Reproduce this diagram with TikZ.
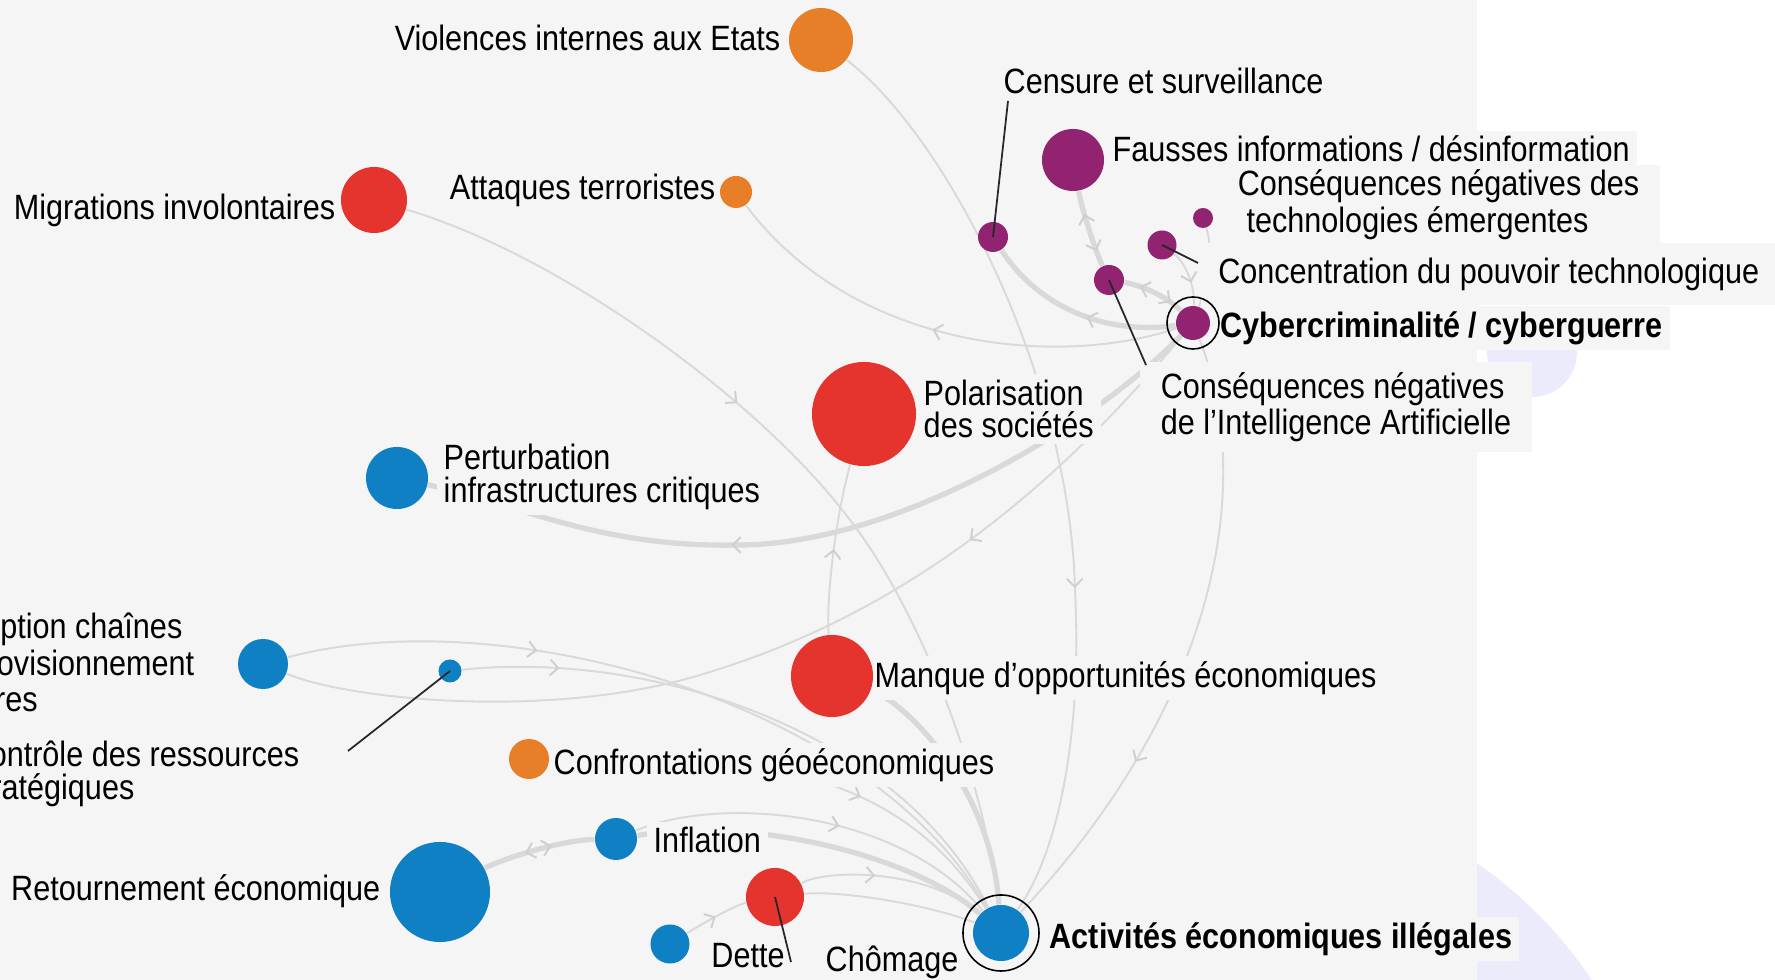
\documentclass[tikz,border=0pt]{standalone}
\usepackage{fontspec}
\setmainfont{Liberation Sans}[FakeStretch=0.87]
\usetikzlibrary{arrows.meta,decorations.markings}
\pgfdeclarelayer{back}
\pgfdeclarelayer{edges}
\pgfsetlayers{back,edges,main}
\definecolor{bgc}{HTML}{F5F5F5}
\definecolor{lav}{HTML}{ECEBFB}
\definecolor{edgec}{HTML}{D9D9D9}
\definecolor{arrc}{HTML}{CFCFCF}
\definecolor{cor}{HTML}{E67F28}
\definecolor{cred}{HTML}{E5332D}
\definecolor{cblue}{HTML}{0F80C4}
\definecolor{cpurp}{HTML}{912371}
\tikzset{chev/.tip={Straight Barb[length=2.3pt,width=4.5pt,line width=0.55pt]}}
\begin{document}
\begin{tikzpicture}[x=0.01cm, y=-0.01cm,
  risk/.style 2 args={circle, inner sep=0pt, fill=#1, minimum size=#2},
  ring/.style={circle, draw=black, line width=0.45pt, inner sep=0pt, minimum size=#1},
  lbl/.style={fill=bgc, inner xsep=2pt, inner ysep=1.5pt, align=left, font=\fontsize{10}{9.3}\selectfont},
  boldlbl/.style={lbl, font=\fontsize{10}{9.3}\selectfont\bfseries},
  link/.style={draw=edgec, line width=0.55pt},
  heavy/.style={draw=edgec, line width=1.5pt},
  leader/.style={draw=black!85, line width=0.5pt},
  onward/.style={postaction={decorate}, decoration={markings, mark=at position #1 with {\arrow[arrc]{chev}}}},
  twoway/.style 2 args={postaction={decorate}, decoration={markings,
    mark=at position #1 with {\arrowreversed[arrc]{chev}},
    mark=at position #2 with {\arrow[arrc]{chev}}}}]
\useasboundingbox (0,0) rectangle (1775,980);
\begin{pgfonlayer}{back}
\fill[white] (0,0) rectangle (1775,980);
\fill[lav] (1226,1225) circle[radius=4.4cm];
\fill[lav] (1532,352) circle[radius=0.45cm];
\fill[bgc] (0,0) rectangle (1477,980);
\end{pgfonlayer}

% labels
\node[lbl, anchor=east] (viollbl) at (788,38) {Violences internes aux Etats};
\node[lbl, anchor=east] (migrlbl) at (343,210) {Migrations involontaires};
\node[lbl, anchor=east] (attlbl) at (723,190) {Attaques terroristes};
\node[lbl, anchor=west] (censlbl) at (996,81) {Censure et surveillance};
\node[lbl, anchor=west] (fauslbl) at (1105,149) {Fausses informations / désinformation};
\node[lbl, anchor=west, inner xsep=6pt] (techlbl) at (1216,205) {Conséquences négatives des\\\hspace*{0.25em}technologies émergentes};
\node[lbl, anchor=west, inner xsep=5pt, minimum height=0.62cm] (conclbl) at (1200,274) {Concentration du pouvoir technologique};
\node[boldlbl, anchor=west] (cyberlbl) at (1213,328) {Cybercriminalité / cyberguerre};
\node[lbl, anchor=west, inner xsep=6pt, inner ysep=3pt] (ialbl) at (1139,407) {Conséquences négatives\\de l’Intelligence Artificielle};
\node[lbl, anchor=west] (polalbl) at (916,409) {Polarisation\\des sociétés};
\node[lbl, anchor=west] (pertlbl) at (436,477) {Perturbation\\infrastructures critiques};
\node[lbl, anchor=east] (ruptlbl) at (202,666) {Interruption chaînes\\d’approvisionnement\\majeures};
\node[lbl, anchor=east] (ctrllbl) at (307,774) {Contrôle des ressources\\stratégiques};
\node[lbl, anchor=west] (manqlbl) at (867,678) {Manque d’opportunités économiques};
\node[lbl, anchor=west] (conflbl) at (546,765) {Confrontations géoéconomiques};
\node[lbl, anchor=west] (infllbl) at (646,840) {Inflation};
\node[lbl, anchor=east] (retlbl) at (388,891) {Retournement économique};
\node[lbl] (dettelbl) at (748,956) {Dette};
\node[lbl] (chomlbl) at (892,962) {Chômage};
\node[boldlbl, anchor=west] (actilbl) at (1042,939) {Activités économiques illégales};

% risks
\node[risk={cor}{0.64cm}] (viol) at (821,40) {};
\node[risk={cred}{0.66cm}] (migr) at (374,200) {};
\node[risk={cor}{0.32cm}] (att) at (736,192) {};
\node[risk={cpurp}{0.30cm}] (cens) at (993,237) {};
\node[risk={cpurp}{0.62cm}] (faus) at (1073,160) {};
\node[risk={cpurp}{0.20cm}] (tech) at (1203,218) {};
\node[risk={cpurp}{0.29cm}] (conc) at (1162,245) {};
\node[risk={cpurp}{0.30cm}] (ia) at (1109,280) {};
\node[risk={cpurp}{0.34cm}] (cyber) at (1193,323) {};
\node[risk={cred}{1.04cm}] (pola) at (864,414) {};
\node[risk={cblue}{0.62cm}] (pert) at (397,478) {};
\node[risk={cblue}{0.50cm}] (rupt) at (263,664) {};
\node[risk={cblue}{0.23cm}] (ctrl) at (450,671) {};
\node[risk={cred}{0.82cm}] (manq) at (832,676) {};
\node[risk={cor}{0.40cm}] (conf) at (529,759) {};
\node[risk={cblue}{0.42cm}] (infl) at (616,839) {};
\node[risk={cblue}{1.00cm}] (ret) at (440,892) {};
\node[risk={cred}{0.58cm}] (dette) at (775,897) {};
\node[risk={cblue}{0.39cm}] (endet) at (670,944) {};
\node[risk={cblue}{0.56cm}] (acti) at (1001,933) {};
\node[ring=0.52cm] (cyberring) at (cyber) {};
\node[ring=0.76cm] (actiring) at (acti) {};

% leaders
\coordinate (censtip) at (1008,101);
\coordinate (conctip) at (1198,263);
\coordinate (iatip) at (1146,365);
\coordinate (ctrltip) at (348,751);
\coordinate (dettetip) at (791,962);
\draw[leader] (cens.center) -- (censtip);
\draw[leader] (conc.center) -- (conctip);
\draw[leader] (ia.center) -- (iatip);
\draw[leader] (ctrl.center) -- (ctrltip);
\draw[leader] (dette.center) -- (dettetip);

% links
\begin{pgfonlayer}{edges}
\draw[link, onward=0.64] (viol) .. controls (950,140) and (1070,380) .. (1075,590) .. controls (1082,730) and (1060,850) .. (acti);
\draw[link, onward=0.52] (cyber) .. controls (1050,370) and (850,345) .. (att);
\draw[heavy, onward=0.45] (cyber) .. controls (1110,335) and (1040,310) .. (cens);
\draw[link, onward=0.4] (migr) .. controls (560,255) and (760,400) .. (850,520) .. controls (920,610) and (985,780) .. (acti);
\draw[heavy, onward=0.62] (cyber) .. controls (1100,420) and (900,545) .. (738,545) .. controls (600,548) and (520,505) .. (pert);
\draw[link, onward=0.29] (cyber) .. controls (1070,470) and (920,610) .. (700,675) .. controls (550,720) and (350,700) .. (rupt);
\draw[link, onward=0.32] (rupt) .. controls (500,600) and (870,700) .. (acti);
\draw[link, onward=0.16] (ctrl) .. controls (650,650) and (900,730) .. (acti);
\draw[heavy, twoway={0.38}{0.62}] (ret) .. controls (500,860) and (560,840) .. (infl);
\draw[heavy] (infl) .. controls (760,815) and (920,860) .. (acti);
\draw[link, onward=0.55] (infl) .. controls (720,795) and (900,810) .. (acti);
\draw[link, onward=0.5] (endet) .. controls (700,925) and (735,905) .. (dette);
\draw[link, onward=0.4] (dette) .. controls (830,868) and (930,870) .. (acti);
\draw[link] (dette) .. controls (840,890) and (930,905) .. (acti);
\draw[link, onward=0.65] (conf) .. controls (750,750) and (900,770) .. (acti);
\draw[heavy] (manq) .. controls (900,700) and (990,780) .. (acti);
\draw[link, onward=0.5] (manq) .. controls (826,600) and (835,520) .. (pola);
\draw[link, onward=0.7] (cyber) .. controls (1255,480) and (1220,700) .. (acti);
\draw[heavy, twoway={0.3}{0.8}] (faus) .. controls (1082,210) and (1095,250) .. (ia);
\draw[heavy, twoway={0.25}{0.8}] (ia) .. controls (1140,285) and (1165,295) .. (cyber);
\draw[link, onward=0.6] (conc) .. controls (1185,262) and (1195,285) .. (cyber);
\draw[link] (tech) .. controls (1215,255) and (1205,290) .. (cyber);
\end{pgfonlayer}
\end{tikzpicture}
\end{document}
